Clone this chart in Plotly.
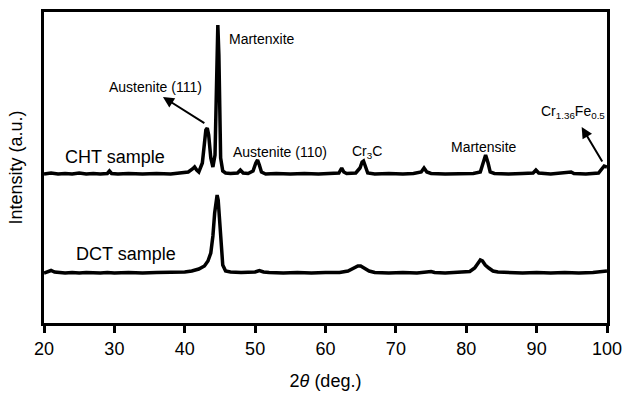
import plotly.graph_objects as go

# 2-theta positions and intensities (a.u.)
cht_2theta = [20.0, 21, 22, 23, 24, 25, 26, 27, 28, 29, 29.3, 29.6, 30.5, 32, 34, 36, 38, 39.5,
              40.5, 41.1, 41.4, 41.7, 42.0, 42.5, 42.8, 43.0, 43.2, 43.4, 43.7, 44.0, 44.3, 44.5,
              44.7, 44.85, 44.95, 45.1, 45.4, 45.8, 46.5, 47.5, 47.9, 48.3, 49, 49.7, 50.1, 50.35,
              50.6, 50.9, 51.5, 53, 55, 57, 59, 61, 61.9, 62.3, 62.6, 63, 64.3, 64.9, 65.2, 65.4,
              65.7, 66.0, 67, 69, 71, 72.5, 73.6, 74.0, 74.4, 75, 77, 79, 81, 82.0, 82.4, 82.75,
              83.1, 83.4, 84, 86, 88, 89.5, 89.9, 90.3, 92, 94.5, 94.9, 95.3, 97, 98.8, 99.3,
              99.6, 100]
cht_int = [149, 150, 149, 149.5, 149, 150, 149, 149.5, 149, 149.5, 152, 149.5, 149, 149.5, 149,
           149.5, 149, 150, 151, 154, 156, 153, 151, 160, 180, 193, 195, 188, 165, 156, 168, 235,
           298, 268, 200, 165, 152, 150, 149.5, 150, 153, 150, 149.5, 152, 160, 163, 158, 151, 149,
           149.5, 149, 149.5, 149, 149.5, 150, 155, 151, 149.5, 150, 155, 161, 162, 155, 150, 149,
           149.5, 149, 149.5, 151, 155, 151, 149.5, 149, 149.5, 149.5, 151, 160, 168, 160, 151,
           149.5, 149, 149.5, 150, 153, 150, 149, 150, 151, 149.5, 149, 150, 154, 157, 156]

dct_2theta = [20, 20.5, 21, 21.5, 22, 23, 24, 25, 26, 27, 28, 29, 30, 32, 34, 36, 38, 40, 41, 42,
              42.8, 43.3, 43.7, 44.0, 44.25, 44.45, 44.6, 44.75, 44.95, 45.15, 45.4, 45.8, 46.5,
              48, 50, 50.6, 51.2, 52, 54, 56, 58, 60, 62, 63.2, 64, 64.6, 65.0, 65.5, 66.2, 67,
              69, 71, 73, 75, 75.5, 77, 79, 80.5, 81.2, 81.7, 82.0, 82.3, 82.7, 83.2, 83.8, 84.5,
              86, 88, 90, 92, 94, 96, 98, 99.5, 100]
dct_int = [50, 51, 52.5, 51, 50.5, 50, 50.5, 50, 50.5, 50, 50, 50.5, 50, 50.5, 50, 50.5, 50.5,
           51, 52, 54, 57, 62, 70, 87, 110, 124, 128, 123, 100, 75, 58, 52, 51, 50.5, 51, 52.5,
           51, 50.5, 50, 50.5, 50, 50.5, 50.5, 52, 55, 57, 57, 55, 52, 50.5, 50, 50.5, 50, 51.5,
           50.5, 50, 50.5, 51.5, 55, 61, 63, 62, 58, 55, 52, 51, 50.5, 50, 50.5, 50, 50.5, 50,
           50.5, 51.5, 52]

x_ticks = [20, 30, 40, 50, 60, 70, 80, 90, 100]
sample_labels = ["CHT sample", "DCT sample"]

FONT = "Liberation Sans, Arial, sans-serif"

fig = go.Figure()
fig.add_trace(go.Scatter(x=cht_2theta, y=cht_int, mode="lines",
                         line=dict(color="black", width=3.5), showlegend=False))
fig.add_trace(go.Scatter(x=dct_2theta, y=dct_int, mode="lines",
                         line=dict(color="black", width=3.5), showlegend=False))

def txt(x, y, t, size=14, xanchor="center"):
    fig.add_annotation(x=x, y=y, xref="x", yref="y", text=t, showarrow=False,
                       font=dict(size=size, color="black", family=FONT), xanchor=xanchor,
                       yanchor="middle")

txt(46.0, 284, "Martenxite", xanchor="left")
txt(35.8, 236, "Austenite (111)")
txt(53.5, 171, "Austenite (110)")
txt(65.9, 171, "Cr<sub>3</sub>C")
txt(82.5, 176, "Martensite")
txt(95.2, 211, "Cr<sub>1.36</sub>Fe<sub>0.5</sub>")
txt(30.1, 166, sample_labels[0], size=18)
txt(31.6, 69, sample_labels[1], size=18)

def arrow(xh, yh, xt, yt):
    fig.add_annotation(x=xh, y=yh, ax=xt, ay=yt, xref="x", yref="y", axref="x", ayref="y",
                       text="", showarrow=True, arrowhead=2, arrowsize=1.1, arrowwidth=2,
                       arrowcolor="black", standoff=0, startstandoff=0)

arrow(36.9, 226, 43.0, 199)
arrow(96.4, 196, 99.45, 160)

fig.update_layout(
    width=628, height=396,
    margin=dict(l=44, r=21, t=12, b=73),
    paper_bgcolor="white", plot_bgcolor="white",
    font=dict(family=FONT, size=18, color="black"),
    xaxis=dict(range=[20, 100], tickvals=x_ticks, ticktext=[str(v) for v in x_ticks],
               ticks="outside", ticklen=7, tickwidth=2.5, tickcolor="black",
               showline=True, linewidth=3, linecolor="black", mirror=True,
               showgrid=False, zeroline=False, automargin=False,
               tickfont=dict(size=18, family=FONT),
               title=dict(text="2<i>θ</i> (deg.)", font=dict(size=18, family=FONT), standoff=17)),
    yaxis=dict(range=[0, 311], showticklabels=False, ticks="",
               showline=True, linewidth=3, linecolor="black", mirror=True,
               showgrid=False, zeroline=False, automargin=False,
               title=dict(text="Intensity (a.u.)", font=dict(size=18, family=FONT), standoff=14)),
)

fig.write_html("out.html")
